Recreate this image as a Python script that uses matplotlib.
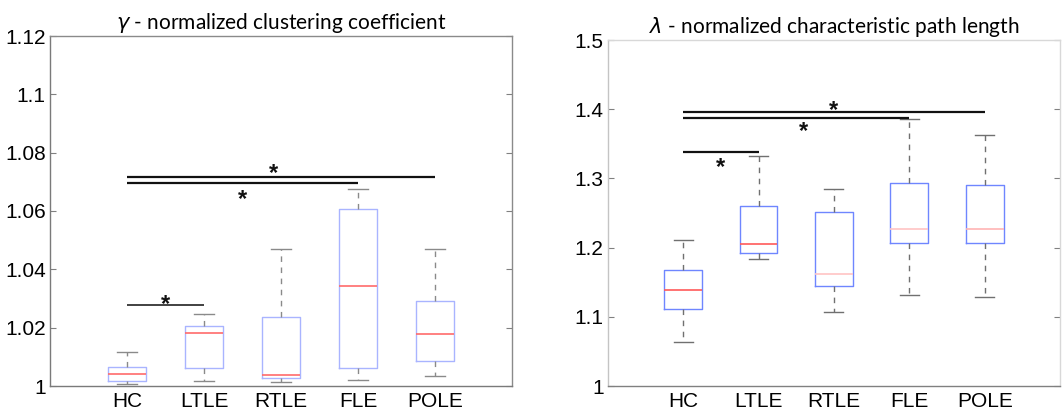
import matplotlib
matplotlib.use('Agg')
import matplotlib.pyplot as plt

# Datos
grupos = ['HC', 'LTLE', 'RTLE', 'FLE', 'POLE']

# gamma: [bigote inf, Q1, mediana, Q3, bigote sup]
gamma_wlo = [1.0007, 1.0018, 1.0015, 1.0021, 1.0033]
gamma_q1 = [1.0017, 1.0061, 1.0026, 1.0062, 1.0085]
gamma_med = [1.0040, 1.0183, 1.0038, 1.0344, 1.0177]
gamma_q3 = [1.0066, 1.0207, 1.0236, 1.0606, 1.0291]
gamma_whi = [1.0116, 1.0247, 1.0470, 1.0675, 1.0469]

# lambda
lam_wlo = [1.063, 1.183, 1.107, 1.132, 1.128]
lam_q1 = [1.111, 1.192, 1.145, 1.206, 1.206]
lam_med = [1.139, 1.205, 1.162, 1.227, 1.227]
lam_q3 = [1.168, 1.260, 1.252, 1.294, 1.291]
lam_whi = [1.211, 1.333, 1.284, 1.386, 1.363]

# Comparaciones significativas con HC: grupo final, altura de la barra, posicion de la estrella
gamma_sig_fin = [2, 4, 5]
gamma_sig_y = [1.0279, 1.0695, 1.0718]
gamma_star_x = [1.5, 2.5, 2.9]
gamma_star_y = [1.0302, 1.0662, 1.0751]

lam_sig_fin = [2, 4, 5]
lam_sig_y = [1.3377, 1.388, 1.396]
lam_star_x = [1.49, 2.6, 2.99]
lam_star_y = [1.325, 1.377, 1.4075]

gamma_ticks = [1, 1.02, 1.04, 1.06, 1.08, 1.1, 1.12]
gamma_ticklabels = ['1', '1.02', '1.04', '1.06', '1.08', '1.1', '1.12']
lam_ticks = [1, 1.1, 1.2, 1.3, 1.4, 1.5]
lam_ticklabels = ['1', '1.1', '1.2', '1.3', '1.4', '1.5']

plt.rcParams['mathtext.fontset'] = 'dejavusans'

fig = plt.figure(figsize=(10.62, 4.08), dpi=100)
ax1 = fig.add_axes([50 / 1062, 22 / 408, 462 / 1062, 350 / 408])
ax2 = fig.add_axes([607.7 / 1062, 22 / 408, 452.4 / 1062, 346 / 408])


def hacer_stats(wlo, q1, med, q3, whi):
    stats = []
    for i in range(len(grupos)):
        stats.append({'whislo': wlo[i], 'q1': q1[i], 'med': med[i],
                      'q3': q3[i], 'whishi': whi[i], 'fliers': [], 'label': grupos[i]})
    return stats


def dibujar(ax, stats, color_caja, colores_med, color_bigote, spine_col):
    pos = list(range(1, len(grupos) + 1))
    res = ax.bxp(stats, positions=pos, widths=0.5, showfliers=False,
                 boxprops=dict(color=color_caja, linewidth=1.0),
                 whiskerprops=dict(color=color_bigote, linewidth=1.0, linestyle=(0, (4, 4))),
                 capprops=dict(color=color_bigote, linewidth=1.0),
                 medianprops=dict(linewidth=1.2))
    for l, c in zip(res['medians'], colores_med):
        l.set_color(c)
    ax.set_xlim(0, 6)
    ax.set_xticks(pos)
    ax.set_xticklabels(grupos, fontsize=15, family='Liberation Sans')
    ax.tick_params(axis='x', length=0, pad=4)
    ax.tick_params(axis='y', direction='in', length=4, right=True, colors='#808080',
                   labelcolor='black', labelsize=15, pad=3)
    for k, v in spine_col.items():
        ax.spines[k].set_color(v)
        ax.spines[k].set_linewidth(1.0)


def significancia(ax, fines, ys, sx, sy, grosores, colores):
    for f, y, lw, c in zip(fines, ys, grosores, colores):
        ax.plot([1, f], [y, y], color=c, linewidth=lw, solid_capstyle='butt')
    fs = 17
    for x, y in zip(sx, sy):
        # el asterisco queda alto en la caja del texto: se baja para centrarlo
        ax.annotate('*', (x, y), xytext=(0, -0.56 * fs), textcoords='offset points',
                    fontsize=fs, fontweight='bold', ha='center', va='baseline',
                    family='Liberation Sans', color='#111111')


# Panel gamma
dibujar(ax1, hacer_stats(gamma_wlo, gamma_q1, gamma_med, gamma_q3, gamma_whi),
        '#a9b4ff', ['#ff6b6b'] * 5, '#8a8a8a',
        {'left': '#7a7a7a', 'bottom': '#7a7a7a', 'top': '#8a8a8a', 'right': '#8a8a8a'})
ax1.set_ylim(1, 1.12)
ax1.set_yticks(gamma_ticks)
ax1.set_yticklabels(gamma_ticklabels, family='Liberation Sans')
significancia(ax1, gamma_sig_fin, gamma_sig_y, gamma_star_x, gamma_star_y,
              [1.3, 1.6, 1.6], ['#333333', '#111111', '#111111'])
ax1.set_title(r'$\gamma$ - normalized clustering coefficient', fontsize=15,
              family='Lato', pad=5)

# Panel lambda
dibujar(ax2, hacer_stats(lam_wlo, lam_q1, lam_med, lam_q3, lam_whi),
        '#6f86ff', ['#ff5a5a', '#ff5a5a', '#ffc4c4', '#ffc4c4', '#ffb4b4'], '#707070',
        {'left': '#c4c4c4', 'bottom': '#808080', 'top': '#d8d8d8', 'right': '#d8d8d8'})
ax2.set_ylim(1, 1.5)
ax2.set_yticks(lam_ticks)
ax2.set_yticklabels(lam_ticklabels, family='Liberation Sans')
significancia(ax2, lam_sig_fin, lam_sig_y, lam_star_x, lam_star_y,
              [1.6, 1.6, 1.6], ['#111111', '#111111', '#111111'])
ax2.set_title(r'$\lambda$ - normalized characteristic path length', fontsize=15,
              family='Lato', pad=5)

fig.savefig('out.png', dpi=100)
